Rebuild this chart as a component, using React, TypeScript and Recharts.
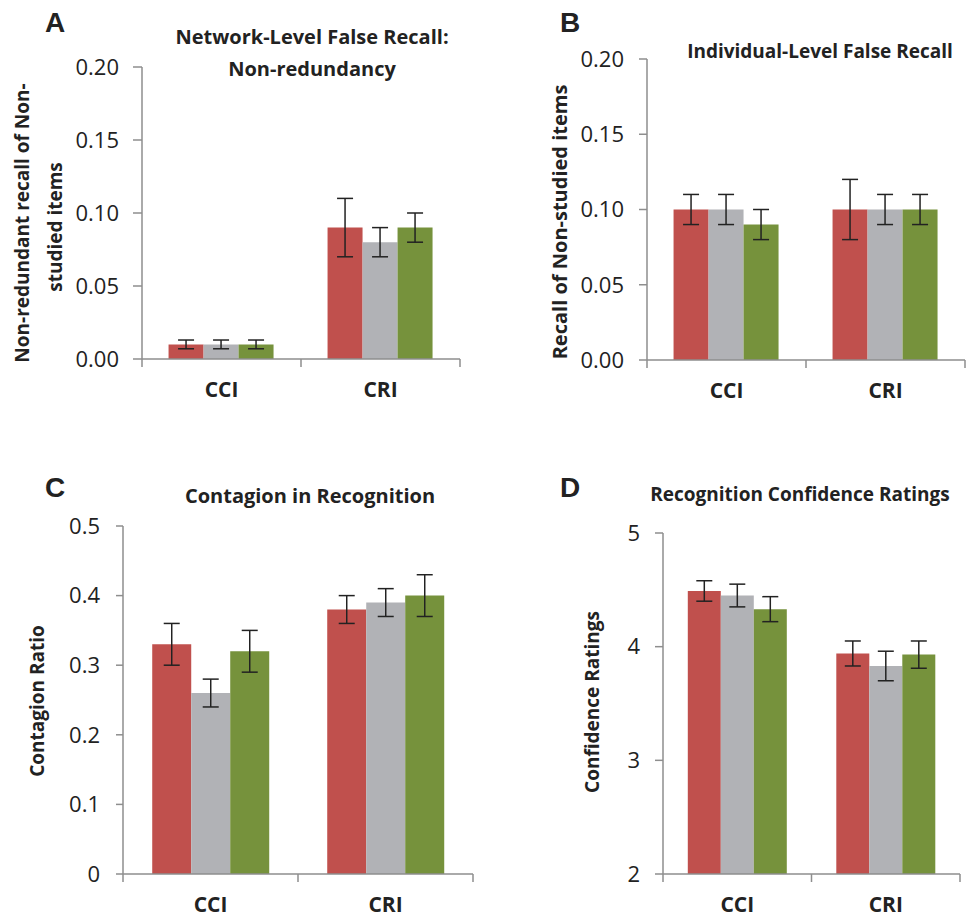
import React from 'react';
import { BarChart, Bar, XAxis, YAxis, ErrorBar } from 'recharts';

const categories = ['CCI', 'CRI'];

// A: network-level false recall (non-redundancy)
const aRed = [0.01, 0.09];
const aGrey = [0.01, 0.08];
const aGreen = [0.01, 0.09];
const aRedErr = [0.003, 0.02];
const aGreyErr = [0.003, 0.01];
const aGreenErr = [0.003, 0.01];
const aTicks = [0, 0.05, 0.1, 0.15, 0.2];

// B: individual-level false recall
const bRed = [0.1, 0.1];
const bGrey = [0.1, 0.1];
const bGreen = [0.09, 0.1];
const bRedErr = [0.01, 0.02];
const bGreyErr = [0.01, 0.01];
const bGreenErr = [0.01, 0.01];
const bTicks = [0, 0.05, 0.1, 0.15, 0.2];

// C: contagion in recognition
const cRed = [0.33, 0.38];
const cGrey = [0.26, 0.39];
const cGreen = [0.32, 0.4];
const cRedErr = [0.03, 0.02];
const cGreyErr = [0.02, 0.02];
const cGreenErr = [0.03, 0.03];
const cTicks = [0, 0.1, 0.2, 0.3, 0.4, 0.5];

// D: recognition confidence ratings
const dRed = [4.49, 3.94];
const dGrey = [4.45, 3.83];
const dGreen = [4.33, 3.93];
const dRedErr = [0.09, 0.11];
const dGreyErr = [0.1, 0.13];
const dGreenErr = [0.11, 0.12];
const dTicks = [2, 3, 4, 5];

const RED = '#c0504d';
const GREY = '#b1b2b6';
const GREEN = '#76923c';
const AXIS = '#8e8e8e';
const FONT = '"Open Sans", sans-serif';

const build = (r: number[], g: number[], gr: number[], re: number[], ge: number[], gre: number[]) =>
  categories.map((c, i) => ({ cat: c, r: r[i], g: g[i], gr: gr[i], re: re[i], ge: ge[i], gre: gre[i] }));

const makeTick = (band: number) => (props: any) => {
  const { x, y, payload, index } = props;
  return (
    <g>
      <line x1={x - band / 2} x2={x - band / 2} y1={y} y2={y + 8} stroke={AXIS} strokeWidth={1.5} />
      {index === categories.length - 1 && (
        <line x1={x + band / 2} x2={x + band / 2} y1={y} y2={y + 8} stroke={AXIS} strokeWidth={1.5} />
      )}
      <text x={x} y={y + 38} textAnchor="middle" fontFamily={FONT} fontWeight="bold" fontSize={21} fill="#222">
        {payload.value}
      </text>
    </g>
  );
};

type PanelProps = {
  left: number; top: number; width: number; height: number;
  x0: number; x1: number; y0: number; y1: number;
  data: any[]; domain: [number, number]; ticks: number[];
  fmt: (v: number) => string; tickSize: number; tickMargin: number;
};

const Panel: React.FC<PanelProps> = (p) => {
  const yw = 60;
  const xh = 44;
  const margin = {
    top: p.y0 - p.top,
    left: p.x0 - p.left - yw,
    right: p.left + p.width - p.x1,
    bottom: p.top + p.height - p.y1 - xh,
  };
  const band = (p.x1 - p.x0) / categories.length;
  return (
    <div style={{ position: 'absolute', left: p.left, top: p.top }}>
      <BarChart width={p.width} height={p.height} data={p.data} margin={margin} barGap={0} barCategoryGap="16.7%">
        <XAxis
          dataKey="cat"
          height={xh}
          tickSize={0}
          tickMargin={0}
          tickLine={false}
          axisLine={{ stroke: AXIS, strokeWidth: 1.5 }}
          tick={makeTick(band)}
          interval={0}
        />
        <YAxis
          width={yw}
          type="number"
          domain={p.domain}
          ticks={p.ticks}
          interval={0}
          tickFormatter={p.fmt}
          tickSize={p.tickSize}
          tickMargin={p.tickMargin}
          axisLine={{ stroke: AXIS, strokeWidth: 1.5 }}
          tickLine={{ stroke: AXIS, strokeWidth: 1.5 }}
          tick={{ fill: '#222', fontSize: 22, fontFamily: FONT }}
          allowDataOverflow
        />
        <Bar dataKey="r" fill={RED} isAnimationActive={false}>
          <ErrorBar dataKey="re" width={8} stroke="#222" strokeWidth={1.5} />
        </Bar>
        <Bar dataKey="g" fill={GREY} isAnimationActive={false}>
          <ErrorBar dataKey="ge" width={8} stroke="#222" strokeWidth={1.5} />
        </Bar>
        <Bar dataKey="gr" fill={GREEN} isAnimationActive={false}>
          <ErrorBar dataKey="gre" width={8} stroke="#222" strokeWidth={1.5} />
        </Bar>
      </BarChart>
    </div>
  );
};

const Txt: React.FC<{ x: number; y: number; size: number; rotate?: boolean; family?: string; children: React.ReactNode }> = ({
  x, y, size, rotate, family, children,
}) => (
  <div
    style={{
      position: 'absolute',
      left: x,
      top: y,
      transform: `translate(-50%, -50%)${rotate ? ' rotate(-90deg)' : ''}`,
      whiteSpace: 'nowrap',
      fontFamily: family || FONT,
      fontWeight: 'bold',
      fontSize: size,
      color: '#222',
      lineHeight: 1,
      textAlign: 'center',
    }}
  >
    {children}
  </div>
);

const LETTER = '"Liberation Sans", Arial, sans-serif';

export default function App() {
  return (
    <div style={{ position: 'absolute', left: 0, top: 0, width: 966, height: 918, background: '#fff', overflow: 'hidden' }}>
      <Panel left={0} top={0} width={470} height={420} x0={142} x1={460} y0={67} y1={359}
        data={build(aRed, aGrey, aGreen, aRedErr, aGreyErr, aGreenErr)} domain={[0, 0.2]} ticks={aTicks}
        fmt={(v) => v.toFixed(2)} tickSize={9} tickMargin={14} />
      <Panel left={480} top={0} width={486} height={420} x0={647} x1={965} y0={59} y1={360}
        data={build(bRed, bGrey, bGreen, bRedErr, bGreyErr, bGreenErr)} domain={[0, 0.2]} ticks={bTicks}
        fmt={(v) => v.toFixed(2)} tickSize={8} tickMargin={15} />
      <Panel left={0} top={440} width={480} height={478} x0={123} x1={473} y0={526} y1={874}
        data={build(cRed, cGrey, cGreen, cRedErr, cGreyErr, cGreenErr)} domain={[0, 0.5]} ticks={cTicks}
        fmt={(v) => (v === 0 ? '0' : v.toFixed(1))} tickSize={7} tickMargin={16} />
      <Panel left={480} top={440} width={486} height={478} x0={663} x1={960} y0={533} y1={874}
        data={build(dRed, dGrey, dGreen, dRedErr, dGreyErr, dGreenErr)} domain={[2, 5]} ticks={dTicks}
        fmt={(v) => String(v)} tickSize={8} tickMargin={15} />

      <Txt x={55} y={23} size={28} family={LETTER}>A</Txt>
      <Txt x={570} y={23} size={28} family={LETTER}>B</Txt>
      <Txt x={55} y={488} size={28} family={LETTER}>C</Txt>
      <Txt x={570} y={488} size={28} family={LETTER}>D</Txt>

      <Txt x={312} y={37} size={20}>Network-Level False Recall:</Txt>
      <Txt x={312} y={69} size={20}>Non-redundancy</Txt>
      <Txt x={820} y={51} size={19}>Individual-Level False Recall</Txt>
      <Txt x={310} y={496} size={20}>Contagion in Recognition</Txt>
      <Txt x={800} y={494} size={19}>Recognition Confidence Ratings</Txt>

      <Txt x={22} y={223} size={19} rotate>Non-redundant recall of Non-</Txt>
      <Txt x={55} y={227} size={19} rotate>studied items</Txt>
      <Txt x={560} y={222} size={20} rotate>Recall of Non-studied items</Txt>
      <Txt x={37} y={701} size={19} rotate>Contagion Ratio</Txt>
      <Txt x={592} y={702} size={19} rotate>Confidence Ratings</Txt>
    </div>
  );
}
